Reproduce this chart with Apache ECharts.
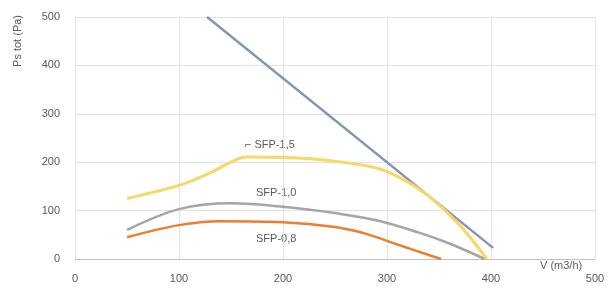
<!DOCTYPE html>
<html>
<head>
<meta charset="utf-8">
<script src="https://cdn.jsdelivr.net/npm/echarts@6/dist/echarts.min.js"></script>
<style>
  html, body { margin: 0; padding: 0; background: #fff; }
  #chart { width: 608px; height: 290px; }
</style>
</head>
<body>
<div id="chart"></div>
<script>
const xTicks = [0, 100, 200, 300, 400, 500];
const yTicks = [0, 100, 200, 300, 400, 500];

const systemX = [127, 402];
const systemY = [500, 23];

const sfp15X = [50, 100, 130, 165, 200, 250, 290, 315, 340, 370, 396];
const sfp15Y = [125, 152, 178, 211, 210, 202, 188, 165, 130, 70, 0];

const sfp10X = [50, 100, 150, 200, 250, 290, 330, 360, 394];
const sfp10Y = [60, 103, 115, 108, 95, 80, 55, 32, 0];

const sfp08X = [50, 100, 140, 200, 250, 280, 310, 335, 352];
const sfp08Y = [45, 70, 78, 76, 66, 52, 30, 12, 0];

const pairs = (xs, ys) => xs.map((x, i) => [x, ys[i]]);

const chartDom = document.getElementById("chart");
let myChart = echarts.init(chartDom);
let option;

const textColor = "#595959";
const font = "Liberation Sans";

option = {
  animation: false,
  grid: { left: 75, right: 13, top: 17, bottom: 31 },
  xAxis: {
    type: "value",
    min: 0,
    max: 500,
    interval: 100,
    axisLine: { show: true, lineStyle: { color: "#bfbfbf", width: 1 } },
    axisTick: { show: false },
    splitLine: { show: true, lineStyle: { color: "#e3e3e3" } },
    axisLabel: {
      color: textColor, fontSize: 11, fontFamily: font, margin: 14,
      formatter: (v) => (xTicks.includes(v) ? String(v) : ""),
    },
  },
  yAxis: {
    type: "value",
    min: 0,
    max: 500,
    interval: 100,
    axisLine: { show: false },
    axisTick: { show: false },
    splitLine: { show: true, lineStyle: { color: "#e3e3e3" } },
    axisLabel: {
      color: textColor, fontSize: 11, fontFamily: font, margin: 15,
      formatter: (v) => (yTicks.includes(v) ? String(v) : ""),
    },
  },
  graphic: [
    {
      type: "text", left: 12, top: 15, rotation: Math.PI / 2,
      style: { text: "Ps tot (Pa)", fill: textColor, fontSize: 11, fontFamily: font },
    },
    {
      type: "text", left: 540, top: 260,
      style: { text: "V (m3/h)", fill: textColor, fontSize: 11, fontFamily: font },
    },
    {
      type: "text", left: 245, top: 139,
      style: { text: "⌐ SFP-1,5", fill: textColor, fontSize: 11, fontFamily: font },
    },
    {
      type: "text", left: 256, top: 187,
      style: { text: "SFP-1,0", fill: textColor, fontSize: 11, fontFamily: font },
    },
    {
      type: "text", left: 256, top: 233,
      style: { text: "SFP-0,8", fill: textColor, fontSize: 11, fontFamily: font },
    },
  ],
  series: [
    {
      name: "SFP-0,8", type: "line", smooth: 0.35, showSymbol: false,
      data: pairs(sfp08X, sfp08Y),
      lineStyle: { color: "#ed7d31", width: 2.5 },
    },
    {
      name: "SFP-1,0", type: "line", smooth: 0.35, showSymbol: false,
      data: pairs(sfp10X, sfp10Y),
      lineStyle: { color: "#a5a5a5", width: 2.5 },
    },
    {
      name: "system", type: "line", showSymbol: false,
      data: pairs(systemX, systemY),
      lineStyle: { color: "#8497b0", width: 2.5 },
    },
    {
      name: "SFP-1,5", type: "line", smooth: 0.3, showSymbol: false,
      data: pairs(sfp15X, sfp15Y),
      lineStyle: { color: "#f5d865", width: 3 },
    },
  ],
};

option && myChart.setOption(option);
</script>
</body>
</html>
